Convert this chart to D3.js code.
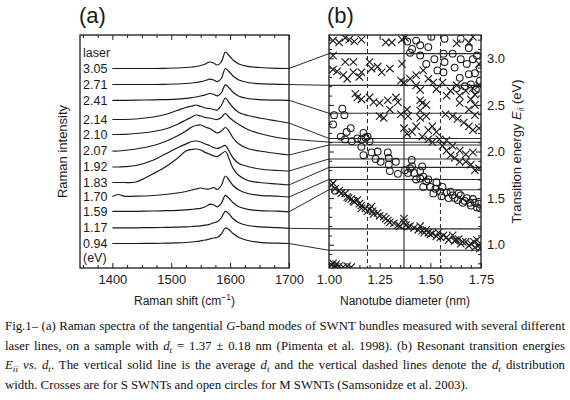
<!DOCTYPE html>
<html><head><meta charset="utf-8">
<script src="https://cdn.jsdelivr.net/npm/d3@7"></script>
<style>
html,body{margin:0;padding:0;background:#fff;}
svg{display:block;}
</style></head><body>
<svg id="c" width="570" height="400"></svg>
<script>
// ---------------- DATA ----------------
const laserLabels = ["3.05","2.71","2.41","2.14","2.10","2.07","1.92","1.83","1.70","1.59","1.17","0.94"];
const laserEnergies = [3.05,2.71,2.41,2.14,2.10,2.07,1.92,1.83,1.70,1.59,1.17,0.94];
const ramanShift = [1400,1410,1420,1440,1470,1490,1510,1525,1535,1542,1550,1558,1565,1572,1578,1585,1592,1598,1605,1615,1630,1650,1680,1700];
// vertical stacking offset of each spectrum (arbitrary intensity units)
const spectrumOffset = [199.5,183.5,167.7,148.5,133.5,117,101,85.5,71.5,56.7,40.2,24.5];
const spectrum305 = [0,0,0,0,0,0.2,0.5,1,1.5,2,3,4.5,6.5,5.5,3.5,6.5,16.5,13,8.5,4.5,2.2,1,0.2,0];
const spectrum271 = [0,0,0,0,0,0.2,0.5,1,1.5,2,2.8,4,5.3,4.5,2.8,6,16,13,8.5,4.5,2,0.8,0.2,0];
const spectrum241 = [0,0,0,0.2,0.4,0.7,1.2,2,2.7,3.3,4.3,5.5,6.8,6,4.5,7.5,15.5,12.5,8,4,1.8,0.7,0.1,0];
const spectrum214 = [0,0,0,0.5,2.5,5,9,12,13.5,14.5,13,11.5,11,10,9.5,14,21.5,17,12,7,4,1.5,-1.5,-3.5];
const spectrum210 = [0,0,0.2,1,3,5.5,10,14.5,17.5,19.5,18.5,17,16.5,15.5,15,17,21,17.5,14,10,5,1,-3,-4.5];
const spectrum207 = [0,0,0.5,2,5.5,9.5,15,20,24,25.5,26,24,22.5,20,18,20,23.5,20,13,7,2.5,0,-2.5,-4];
const spectrum192 = [0,0,0.3,1.5,7,13,19,23,25.5,26,25,23,21.5,19.5,18.5,20,21.5,16,9,3.5,0.5,-2,-3.5,-4];
const spectrum183 = [0,0,0,0.5,9,15.5,24,31.5,33,33.5,32.5,30,28.5,26.5,26,28.5,31,24,14,7,2,0,-1.5,-2.5];
const spectrum170 = [0,2,0.3,0.3,1,2,3.5,5,6.5,7.5,8.5,7.5,7.5,9,7,11,20.5,16.5,11,6.5,3,1.2,0.3,-0.5];
const spectrum159 = [0,0,0,0,0.3,0.6,1,1.5,2,2.5,3,4.5,7,6.5,4.5,8,16,13,8.5,4.5,2,0.7,0.1,-0.5];
const spectrum117 = [0,0,0,0,0.2,0.4,0.7,1,1.3,1.6,2,2.6,3.5,5,6,10,16.5,14,9,5,2.3,0.9,0.2,-0.5];
const spectrum094 = [0,0,0,0,0.2,0.3,0.6,1,1.5,2,2.7,3.5,4.5,5.5,6,9.5,15.5,14,10,6,3,1.2,0.3,0];
const spectra = [spectrum305,spectrum271,spectrum241,spectrum214,spectrum210,spectrum207,spectrum192,spectrum183,spectrum170,spectrum159,spectrum117,spectrum094];

const shiftTicks = [1400,1500,1600,1700];
const diameterTicks = [1.00,1.25,1.50,1.75];
const energyTicks = [1.0,1.5,2.0,2.5,3.0];
const meanDiameter = 1.37;
const diameterSpread = 0.18;

// S SWNTs (crosses): [diameter nm, Eii eV]
const semiconductingPoints = [
 [1.013,1.64],[1.02,1.66],[1.03,1.60],[1.05,1.58],[1.06,1.55],[1.08,1.55],[1.09,1.51],[1.097,1.50],[1.11,1.49],[1.12,1.47],
 [1.125,1.46],[1.14,1.48],[1.15,1.44],[1.16,1.42],[1.16,1.39],[1.18,1.39],[1.19,1.36],[1.20,1.38],[1.21,1.41],[1.215,1.36],
 [1.22,1.33],[1.24,1.34],[1.25,1.31],[1.27,1.30],[1.28,1.28],[1.29,1.26],[1.30,1.24],[1.32,1.23],[1.34,1.21],[1.35,1.20],
 [1.37,1.28],[1.37,1.24],[1.38,1.21],[1.39,1.19],[1.40,1.20],[1.42,1.18],[1.44,1.16],[1.45,1.20],[1.46,1.15],[1.47,1.13],
 [1.48,1.16],[1.49,1.13],[1.50,1.11],[1.51,1.12],[1.53,1.09],[1.54,1.13],[1.55,1.08],[1.565,1.10],[1.58,1.08],[1.59,1.05],
 [1.61,1.10],[1.62,1.04],[1.625,1.05],[1.64,1.06],[1.65,1.01],[1.66,1.03],[1.675,1.03],[1.69,0.99],[1.70,1.01],[1.715,1.03],
 [1.72,0.97],[1.73,1.05],[1.74,0.995],[1.745,0.96],
 [1.013,0.78],[1.02,0.80],[1.03,0.76],[1.05,0.77],[1.07,0.76],[1.09,0.77],[1.11,0.76],[1.035,0.79],
 [1.02,3.19],[1.05,3.17],[1.08,3.22],[1.10,3.20],[1.125,3.18],[1.16,3.20],[1.28,3.17],[1.31,3.17],[1.36,3.20],[1.375,3.22],
 [1.69,3.17],[1.71,3.23],[1.63,3.16],
 [1.02,3.03],[1.08,2.96],[1.12,2.96],[1.12,2.85],[1.02,2.88],[1.04,2.86],[1.07,2.82],[1.09,2.78],[1.15,2.80],[1.16,2.85],
 [1.20,2.96],[1.21,2.89],[1.24,2.91],[1.26,2.85],[1.30,2.89],[1.36,2.94],[1.355,2.76],[1.37,2.74],[1.40,2.78],[1.43,2.82],
 [1.465,2.87],[1.43,2.71],[1.45,2.66],[1.49,2.78],[1.515,2.74],[1.53,2.67],[1.56,2.74],[1.58,2.60],[1.60,2.65],[1.63,2.71],
 [1.645,2.60],[1.675,2.65],[1.70,2.56],[1.72,2.61],[1.72,2.50],[1.74,2.94],
 [1.13,2.62],[1.14,2.58],[1.16,2.56],[1.20,2.58],[1.22,2.53],[1.25,2.52],[1.29,2.55],[1.33,2.58],[1.34,2.53],[1.25,2.38],
 [1.27,2.36],[1.30,2.45],[1.355,2.40],[1.385,2.45],[1.39,2.38],[1.37,2.25],[1.385,2.19],[1.41,2.21],[1.43,2.27],[1.45,2.44],
 [1.45,2.55],[1.46,2.52],[1.48,2.50],[1.45,2.36],[1.48,2.38],[1.49,2.23],[1.51,2.27],[1.53,2.21],[1.46,2.16],[1.49,2.13],
 [1.51,2.10],[1.545,2.13],[1.56,2.06],[1.58,2.01],[1.60,1.96],[1.62,1.93],[1.645,1.89],[1.675,1.89],[1.70,1.86],[1.72,1.80],
 [1.74,1.82],[1.675,1.97],[1.71,1.99],[1.645,2.01],[1.61,2.06],[1.58,2.12],[1.575,2.40],[1.61,2.38],[1.635,2.35],[1.665,2.31],
 [1.69,2.27],[1.71,2.23],[1.74,2.25],[1.645,2.52],[1.69,2.45],[1.72,2.39],[1.71,2.68],[1.74,2.71]
];
// M SWNTs (open circles): [diameter nm, Eii eV]
const metallicPoints = [
 [1.025,2.39],[1.066,2.46],[1.076,2.39],[1.02,2.29],[1.058,2.16],[1.087,2.21],[1.107,2.25],[1.113,2.11],[1.079,2.13],[1.17,2.20],
 [1.16,2.13],[1.18,2.15],[1.20,2.11],[1.16,2.05],[1.17,1.96],[1.21,1.99],[1.24,2.00],[1.23,1.92],[1.255,1.89],[1.29,1.99],
 [1.295,1.93],[1.295,1.86],[1.30,1.79],[1.33,1.89],[1.34,1.76],[1.375,1.80],[1.41,1.84],[1.42,1.77],[1.43,1.70],[1.45,1.79],
 [1.465,1.73],[1.48,1.68],[1.465,1.62],[1.50,1.62],[1.515,1.55],[1.53,1.67],[1.525,1.60],[1.548,1.57],[1.555,1.52],[1.58,1.56],
 [1.59,1.50],[1.61,1.53],[1.635,1.48],[1.65,1.53],[1.67,1.47],[1.68,1.50],[1.695,1.45],[1.71,1.49],[1.73,1.40],[1.74,1.44],
 [1.745,1.39],[1.46,1.84],[1.408,1.91],[1.03,1.58],[1.39,1.77],[1.40,1.82],[1.45,1.71],[1.49,1.70],[1.56,1.62],[1.60,1.57],
 [1.62,1.50],[1.66,1.45],[1.70,1.42],[1.72,1.45],[1.64,1.55],[1.19,2.16],[1.14,2.14],
 [1.386,3.18],[1.43,3.19],[1.49,3.12],[1.505,3.23],[1.57,3.21],[1.565,3.05],[1.57,2.96],[1.62,2.90],[1.65,3.21],[1.69,3.11],
 [1.71,2.99],[1.73,3.03],[1.65,2.99],[1.68,2.94],[1.645,2.79],[1.69,2.83],[1.72,2.84],[1.67,2.70],[1.63,2.68],[1.745,2.89],
 [1.535,2.87],[1.52,2.99],[1.48,2.94],[1.45,3.03],[1.41,3.10],[1.45,3.14],[1.61,3.05],[1.565,2.85],[1.70,2.72],[1.725,2.66],
 [1.745,2.76],[1.40,3.06]
];

const captionLines = [
 [["Fig.1– (a) Raman spectra of the tangential ","n"],["G","i"],["-band modes of SWNT bundles measured with several different","n"]],
 [["laser lines, on a sample with ","n"],["d","i"],["t","sub"],[" = 1.37 ± 0.18 nm (Pimenta et al. 1998). (b) Resonant transition energies","n"]],
 [["E","i"],["ii","sub"],[" ","n"],["vs.","i"],[" ","n"],["d","i"],["t","sub"],[". The vertical solid line is the average ","n"],["d","i"],["t","sub"],[" and the vertical dashed lines denote the ","n"],["d","i"],["t","sub"],[" distribution","n"]],
 [["width. Crosses are for S SWNTs and open circles for M SWNTs (Samsonidze et al. 2003).","n"]]
];

// ---------------- DRAWING ----------------
const svg = d3.select("#c");
const SANS = "'Liberation Sans', Arial, Helvetica, sans-serif";
const SERIF = "'Liberation Serif', 'Times New Roman', serif";
const INK = "#1a1a1a";

const A = {l:80, r:289, t:35, b:268};
const B = {l:329, r:481, t:35, b:268};

const xA = d3.scaleLinear().domain([1345,1700]).range([A.l,A.r]);
const yA = d3.scaleLinear().domain([0,233]).range([A.b,A.t]);
const xB = d3.scaleLinear().domain([1.0,1.75]).range([B.l,B.r]);
const yB = d3.scaleLinear().domain([0.75,3.25]).range([B.b,B.t]);

// panel titles
svg.append("text").attr("x",79).attr("y",23).attr("font-family",SANS).attr("font-size",22).attr("fill",INK).text("(a)");
svg.append("text").attr("x",327).attr("y",23).attr("font-family",SANS).attr("font-size",22).attr("fill",INK).text("(b)");

// ---- panel (a) ----
const gA = svg.append("g");
const lineGen = (off) => d3.line()
  .x((v,i)=>xA(ramanShift[i]))
  .y(v=>yA(off+v))
  .curve(d3.curveCatmullRom.alpha(0.5));

spectra.forEach((s,k)=>{
  gA.append("path").attr("d", lineGen(spectrumOffset[k])(s))
    .attr("fill","none").attr("stroke",INK).attr("stroke-width",1.2).attr("stroke-linejoin","round");
});

// energy labels
const labelG = gA.append("g").attr("font-family",SANS).attr("font-size",12.5).attr("fill",INK);
laserLabels.forEach((t,k)=>{
  labelG.append("text").attr("x",A.l+3).attr("y",yA(spectrumOffset[k])).attr("dy","0.35em").text(t);
});
labelG.append("text").attr("x",A.l+3).attr("y",yA(spectrumOffset[0]+15.5)).attr("dy","0.35em").text("laser");
labelG.append("text").attr("x",A.l+3).attr("y",yA(spectrumOffset[spectrumOffset.length-1]-14.5)).attr("dy","0.35em").text("(eV)");

// axes (a)
const minorShift = d3.range(1350,1701,25).filter(v=>v%100!==0);
function styleAxis(g){ g.select(".domain").remove(); g.selectAll("line").attr("stroke",INK).attr("stroke-width",1); g.selectAll("text").attr("font-family",SANS).attr("font-size",13).attr("fill",INK); }
gA.append("g").attr("transform",`translate(0,${A.b})`)
  .call(d3.axisBottom(xA).tickValues(shiftTicks).tickSize(-5).tickPadding(7).tickFormat(d3.format("d"))).call(styleAxis);
gA.append("g").attr("transform",`translate(0,${A.b})`)
  .call(d3.axisBottom(xA).tickValues(minorShift).tickSize(-3).tickFormat("")).call(styleAxis);
gA.append("g").attr("transform",`translate(0,${A.t})`)
  .call(d3.axisTop(xA).tickValues(shiftTicks).tickSize(-5).tickFormat("")).call(styleAxis);
gA.append("g").attr("transform",`translate(0,${A.t})`)
  .call(d3.axisTop(xA).tickValues(minorShift).tickSize(-3).tickFormat("")).call(styleAxis);

gA.append("rect").attr("x",A.l).attr("y",A.t).attr("width",A.r-A.l).attr("height",A.b-A.t)
  .attr("fill","none").attr("stroke",INK).attr("stroke-width",1.3);

// axis titles (a)
const tA = svg.append("text").attr("x",(A.l+A.r)/2).attr("y",305).attr("text-anchor","middle")
  .attr("font-family",SANS).attr("font-size",12).attr("fill",INK);
tA.append("tspan").text("Raman shift (cm");
tA.append("tspan").attr("dy",-5).attr("font-size",8.5).text("−1");
tA.append("tspan").attr("dy",5).text(")");
svg.append("text").attr("transform",`translate(67,${(A.t+A.b)/2}) rotate(-90)`).attr("text-anchor","middle")
  .attr("font-family",SANS).attr("font-size",13).attr("fill",INK).text("Raman intensity");

// ---- panel (b) ----
const gB = svg.append("g");
svg.append("defs").append("clipPath").attr("id","clipB").append("rect")
  .attr("x",B.l).attr("y",B.t).attr("width",B.r-B.l).attr("height",B.b-B.t);
const plotB = gB.append("g").attr("clip-path","url(#clipB)");

// laser energy lines
laserEnergies.forEach(e=>{
  plotB.append("line").attr("x1",B.l).attr("x2",B.r).attr("y1",yB(e)).attr("y2",yB(e))
    .attr("stroke","#2a2a2a").attr("stroke-width",1.1);
});
// mean diameter & spread
plotB.append("line").attr("x1",xB(meanDiameter)).attr("x2",xB(meanDiameter)).attr("y1",B.t).attr("y2",B.b)
  .attr("stroke","#2a2a2a").attr("stroke-width",1.1);
[meanDiameter-diameterSpread, meanDiameter+diameterSpread].forEach(d=>{
  plotB.append("line").attr("x1",xB(d)).attr("x2",xB(d)).attr("y1",B.t).attr("y2",B.b)
    .attr("stroke","#2a2a2a").attr("stroke-width",1).attr("stroke-dasharray","4,3");
});

// crosses
const cs = 3.7;
plotB.append("g").selectAll("path").data(semiconductingPoints).join("path")
  .attr("d", p=>{const x=xB(p[0]), y=yB(p[1]); return `M${x-cs},${y-cs}L${x+cs},${y+cs}M${x-cs},${y+cs}L${x+cs},${y-cs}`;})
  .attr("fill","none").attr("stroke",INK).attr("stroke-width",1.1);
// circles
plotB.append("g").selectAll("circle").data(metallicPoints).join("circle")
  .attr("cx",p=>xB(p[0])).attr("cy",p=>yB(p[1])).attr("r",3.4)
  .attr("fill","none").attr("stroke",INK).attr("stroke-width",1.05);

// axes (b)
const minorD = d3.range(1.05,1.75,0.05).filter(v=>Math.abs(v*4-Math.round(v*4))>1e-6);
const minorE = d3.range(0.8,3.25,0.1).filter(v=>Math.abs(v*2-Math.round(v*2))>1e-6);
gB.append("g").attr("transform",`translate(0,${B.b})`)
  .call(d3.axisBottom(xB).tickValues(diameterTicks).tickSize(-5).tickPadding(7).tickFormat(d3.format(".2f"))).call(styleAxis);
gB.append("g").attr("transform",`translate(0,${B.b})`)
  .call(d3.axisBottom(xB).tickValues(minorD).tickSize(-3).tickFormat("")).call(styleAxis);
gB.append("g").attr("transform",`translate(0,${B.t})`)
  .call(d3.axisTop(xB).tickValues(diameterTicks).tickSize(-5).tickFormat("")).call(styleAxis);
gB.append("g").attr("transform",`translate(${B.r},0)`)
  .call(d3.axisRight(yB).tickValues(energyTicks).tickSize(-5).tickPadding(6).tickFormat(d3.format(".1f"))).call(styleAxis);
gB.append("g").attr("transform",`translate(${B.r},0)`)
  .call(d3.axisRight(yB).tickValues(minorE).tickSize(-3).tickFormat("")).call(styleAxis);
gB.append("g").attr("transform",`translate(${B.l},0)`)
  .call(d3.axisLeft(yB).tickValues(energyTicks).tickSize(-5).tickFormat("")).call(styleAxis);
gB.append("g").attr("transform",`translate(${B.l},0)`)
  .call(d3.axisLeft(yB).tickValues(minorE).tickSize(-3).tickFormat("")).call(styleAxis);

gB.append("rect").attr("x",B.l).attr("y",B.t).attr("width",B.r-B.l).attr("height",B.b-B.t)
  .attr("fill","none").attr("stroke",INK).attr("stroke-width",1.3);

// axis titles (b)
svg.append("text").attr("x",(B.l+B.r)/2).attr("y",305).attr("text-anchor","middle")
  .attr("font-family",SANS).attr("font-size",12).attr("fill",INK).text("Nanotube diameter (nm)");
const tB = svg.append("text").attr("transform",`translate(521,${(B.t+B.b)/2}) rotate(-90)`).attr("text-anchor","middle")
  .attr("font-family",SANS).attr("font-size",13).attr("fill",INK);
tB.append("tspan").text("Transition energy ");
tB.append("tspan").attr("font-style","italic").text("E");
tB.append("tspan").attr("font-style","italic").attr("font-size",8.5).attr("dy",3).text("ii");
tB.append("tspan").attr("dy",-3).text(" (eV)");

// connectors between panels
const conn = svg.append("g");
spectra.forEach((s,k)=>{
  conn.append("line")
    .attr("x1",xA(ramanShift[ramanShift.length-1])).attr("y1",yA(spectrumOffset[k]+s[s.length-1]))
    .attr("x2",xB(1.0)).attr("y2",yB(laserEnergies[k]))
    .attr("stroke","#2a2a2a").attr("stroke-width",1);
});

// ---- caption ----
const capBase = [330,349.5,369,388.5];
const capLeft = 5, capRight = 565;
let fs = 13;
function buildLine(i, fsz){
  const t = svg.append("text").attr("x",capLeft).attr("y",capBase[i])
    .attr("font-family",SERIF).attr("font-size",fsz).attr("fill","#111");
  let shift = 0;
  captionLines[i].forEach(([txt,st])=>{
    const ts = t.append("tspan").text(txt);
    if(st==="i"){ ts.attr("font-style","italic"); if(shift){ts.attr("dy",-shift); shift=0;} }
    else if(st==="sub"){ ts.attr("font-style","italic").attr("font-size",fsz*0.72).attr("dy",3); shift=3; }
    else { if(shift){ts.attr("dy",-shift); shift=0;} }
  });
  return t;
}
// determine font size so justified lines fit
let probe = [0,1,2].map(i=>buildLine(i,fs));
let maxW = d3.max(probe, t=>t.node().getComputedTextLength());
probe.forEach(t=>t.remove());
if(maxW > (capRight-capLeft) - 4){ fs = fs*((capRight-capLeft)-4)/maxW; }
captionLines.forEach((ln,i)=>{
  const t = buildLine(i,fs);
  if(i<3){
    const w = t.node().getComputedTextLength();
    const full = ln.map(d=>d[0]).join("");
    const nSp = (full.match(/ /g)||[]).length;
    if(nSp>0){ t.attr("word-spacing", ((capRight-capLeft)-w)/nSp); }
  }
});
</script>
</body></html>
